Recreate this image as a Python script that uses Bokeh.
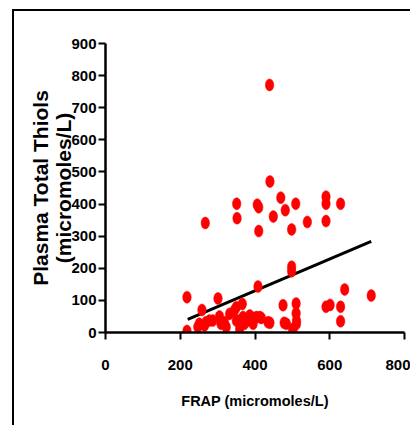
from bokeh.plotting import figure
from bokeh.models import ColumnDataSource, FixedTicker, Range1d
from bokeh.embed import file_html
from bokeh.resources import INLINE

# FRAP (micromoles/L) vs Plasma Total Thiols (micromoles/L)
frap = [439, 440, 351, 352, 406, 410, 410, 449, 469, 481, 509, 498, 540, 590, 590, 629, 590, 267,
        498, 498,
        218, 408, 301, 366, 258, 475, 510, 510, 640, 711, 590, 601, 629, 629,
        218, 247, 251, 265, 269, 278, 287, 305, 309, 318, 323, 332, 345, 350, 350, 359, 359, 368,
        372, 377, 386, 390, 395, 404, 413, 417, 435, 440, 478, 484, 502, 511, 511, 501]
thiols = [771, 470, 401, 356, 398, 390, 316, 361, 420, 381, 401, 321, 344, 423, 401, 401, 347, 341,
          205, 191,
          110, 143, 106, 89, 70, 85, 90, 60, 134, 115, 80, 86, 80, 35,
          5, 17, 27, 22, 32, 37, 37, 50, 27, 32, 17, 58, 69, 79, 37, 37, 12, 48,
          27, 35, 53, 48, 27, 48, 48, 45, 32, 30, 30, 27, 12, 27, 37, 9]

trend_x = [220, 711]
trend_y = [41, 284]

x_ticks = [0, 200, 400, 600, 800]
y_ticks = [0, 100, 200, 300, 400, 500, 600, 700, 800, 900]

src = ColumnDataSource(dict(x=frap, y=thiols))

p = figure(width=398, height=416, output_backend="svg", toolbar_location=None,
           x_range=Range1d(0, 800), y_range=Range1d(0, 900),
           min_border_left=91, min_border_right=8, min_border_top=32, min_border_bottom=95)
p.styles = {"margin-left": "12px", "margin-top": "9px",
            "border-left": "2px solid black", "border-top": "2px solid black"}
p.outline_line_color = None
p.grid.visible = False
p.background_fill_color = "white"
p.border_fill_color = "white"

p.line(trend_x, trend_y, line_color="black", line_width=3)
p.ellipse(x="x", y="y", width=8.5, height=12, width_units="screen", height_units="screen",
          source=src, fill_color="#FF0000", line_color="#FF0000", line_width=0.5)

for ax in (p.xaxis[0], p.yaxis[0]):
    ax.axis_line_width = 2.5
    ax.axis_line_color = "black"
    ax.major_tick_line_width = 2
    ax.major_tick_line_color = "black"
    ax.major_tick_in = 0
    ax.major_tick_out = 7
    ax.minor_tick_line_color = None
    ax.major_label_text_font = "Liberation Sans"
    ax.major_label_text_font_style = "bold"
    ax.major_label_text_font_size = "15px"
    ax.major_label_text_color = "black"
    ax.axis_label_text_color = "black"
    ax.axis_label_text_font_style = "bold"
    ax.axis_label_text_font = "Liberation Sans"

p.xaxis.ticker = FixedTicker(ticks=x_ticks)
p.yaxis.ticker = FixedTicker(ticks=y_ticks)
p.xaxis.major_label_standoff = 20
p.yaxis.major_label_standoff = 2

p.xaxis.axis_label = "FRAP (micromoles/L)"
p.xaxis.axis_label_text_font_size = "14.5px"
p.xaxis.axis_label_standoff = 20

p.yaxis.axis_label = "Plasma Total Thiols\n(micromoles/L)"
p.yaxis.axis_label_text_font_size = "21px"
p.yaxis.axis_label_text_line_height = 1.0
p.yaxis.axis_label_standoff = -7

open("out.html", "w").write(file_html(p, INLINE))
